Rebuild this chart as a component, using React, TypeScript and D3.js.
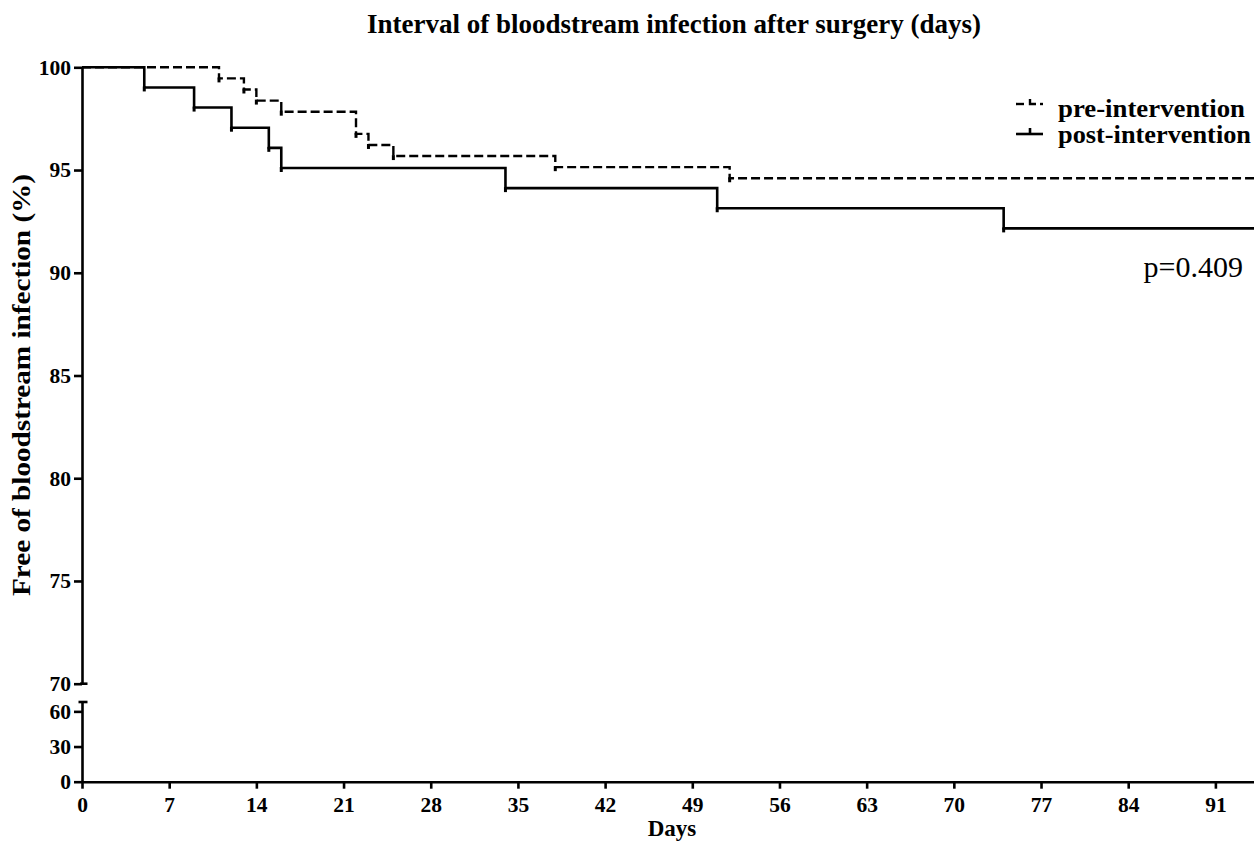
import React, { useEffect, useRef } from "react";
import * as d3 from "d3";

const titleText = "Interval of bloodstream infection after surgery (days)";
const xLabel = "Days";
const yLabel = "Free of bloodstream infection (%)";
const pValueText = "p=0.409";

const seriesNames = ["pre-intervention", "post-intervention"];

// Kaplan-Meier step data (day of event, survival % after event)
const preDays = [11, 13, 14, 16, 22, 23, 25, 38, 52];
const preSurvival = [99.46, 98.92, 98.38, 97.84, 96.76, 96.22, 95.68, 95.14, 94.6];
const postDays = [5, 9, 12, 15, 16, 34, 51, 74];
const postSurvival = [99.02, 98.04, 97.06, 96.08, 95.1, 94.12, 93.14, 92.16];

const xTicks = [0, 7, 14, 21, 28, 35, 42, 49, 56, 63, 70, 77, 84, 91];
const yTicksUpper = [70, 75, 80, 85, 90, 95, 100];
const yTicksLower = [0, 30, 60];

const FONT = "'Liberation Serif', 'Times New Roman', serif";

export default function App() {
  const ref = useRef<SVGSVGElement | null>(null);

  useEffect(() => {
    const svg = d3.select(ref.current);
    svg.selectAll("*").remove();

    const x = d3.scaleLinear().domain([0, 94.1]).range([82, 1254]);
    const yU = d3.scaleLinear().domain([70, 100]).range([683.7, 67.3]);
    const yL = d3.scaleLinear().domain([0, 68]).range([781.7, 702]);

    const axisStyle = (g: any) => {
      g.selectAll("path.domain").attr("stroke", "#000").attr("stroke-width", 2.6);
      g.selectAll(".tick line").attr("stroke", "#000").attr("stroke-width", 2.6);
      g.selectAll(".tick text")
        .attr("fill", "#000")
        .style("font-family", FONT)
        .style("font-weight", "bold")
        .style("font-size", "21.5px");
    };

    // Upper y axis
    const gU = svg.append("g").attr("transform", "translate(82,0)");
    gU.call(
      d3.axisLeft(yU).tickValues(yTicksUpper).tickSize(8).tickSizeOuter(0).tickPadding(3).tickFormat(d3.format("d"))
    );
    axisStyle(gU);
    // extend 70 tick to the right (break)
    svg.append("line")
      .attr("x1", 80).attr("x2", 87.5)
      .attr("y1", yU(70)).attr("y2", yU(70))
      .attr("stroke", "#000").attr("stroke-width", 2.6);

    // Lower y axis
    const gL = svg.append("g").attr("transform", "translate(82,0)");
    gL.call(
      d3.axisLeft(yL).tickValues(yTicksLower).tickSize(8).tickSizeOuter(0).tickPadding(3).tickFormat(d3.format("d"))
    );
    axisStyle(gL);
    svg.append("line")
      .attr("x1", 78.5).attr("x2", 87.5)
      .attr("y1", yL(68)).attr("y2", yL(68))
      .attr("stroke", "#000").attr("stroke-width", 2.6);

    // X axis
    const gX = svg.append("g").attr("transform", `translate(0,${yL(0)})`);
    gX.call(d3.axisBottom(x).tickValues(xTicks).tickSize(7).tickSizeOuter(0).tickPadding(8));
    axisStyle(gX);

    // Step curves
    const buildPts = (days: number[], surv: number[], end: number) => {
      const pts: [number, number][] = [[0, 100]];
      days.forEach((d, i) => pts.push([d, surv[i]]));
      pts.push([end, surv[surv.length - 1]]);
      return pts;
    };
    const line = d3
      .line<[number, number]>()
      .x((d) => x(d[0]))
      .y((d) => yU(d[1]))
      .curve(d3.curveStepAfter);

    const prePts = buildPts(preDays, preSurvival, 94.1);
    const postPts = buildPts(postDays, postSurvival, 94.1);

    svg.append("path")
      .attr("d", line(prePts) as string)
      .attr("fill", "none")
      .attr("stroke", "#000")
      .attr("stroke-width", 2.4)
      .attr("stroke-dasharray", "9,4");

    svg.append("path")
      .attr("d", line(postPts) as string)
      .attr("fill", "none")
      .attr("stroke", "#000")
      .attr("stroke-width", 2.6);

    // censor-like ticks at drops
    const addTicks = (days: number[], surv: number[]) => {
      svg.append("g")
        .selectAll("line")
        .data(days.map((d, i) => [d, surv[i]] as [number, number]))
        .join("line")
        .attr("x1", (d) => x(d[0]))
        .attr("x2", (d) => x(d[0]))
        .attr("y1", (d) => yU(d[1]) - 1)
        .attr("y2", (d) => yU(d[1]) + 4)
        .attr("stroke", "#000")
        .attr("stroke-width", 3);
    };
    addTicks(preDays, preSurvival);
    addTicks(postDays, postSurvival);

    // Title
    svg.append("text")
      .attr("x", 674).attr("y", 33)
      .attr("text-anchor", "middle")
      .style("font-family", FONT).style("font-weight", "bold").style("font-size", "27px")
      .text(titleText);

    // Axis labels
    svg.append("text")
      .attr("x", 672).attr("y", 836)
      .attr("text-anchor", "middle")
      .style("font-family", FONT).style("font-weight", "bold").style("font-size", "23px")
      .text(xLabel);

    svg.append("text")
      .attr("transform", "translate(30,385) rotate(-90)")
      .attr("text-anchor", "middle")
      .attr("textLength", 422)
      .attr("lengthAdjust", "spacingAndGlyphs")
      .style("font-family", FONT).style("font-weight", "bold").style("font-size", "26px")
      .text(yLabel);

    // Legend
    const lg = svg.append("g");
    // pre symbol: dash, L-shaped tick, dot
    lg.append("line").attr("x1", 1016).attr("x2", 1024).attr("y1", 104).attr("y2", 104)
      .attr("stroke", "#000").attr("stroke-width", 2.4);
    lg.append("path").attr("d", "M1030,99 L1030,104 L1036,104")
      .attr("fill", "none").attr("stroke", "#000").attr("stroke-width", 2.4);
    lg.append("line").attr("x1", 1040).attr("x2", 1043).attr("y1", 104).attr("y2", 104)
      .attr("stroke", "#000").attr("stroke-width", 2.4);
    // post symbol
    lg.append("line").attr("x1", 1016).attr("x2", 1043).attr("y1", 134).attr("y2", 134)
      .attr("stroke", "#000").attr("stroke-width", 2.6);
    lg.append("line").attr("x1", 1030).attr("x2", 1030).attr("y1", 128).attr("y2", 134)
      .attr("stroke", "#000").attr("stroke-width", 2.6);
    const legendLens = [187, 193];
    lg.selectAll("text.lbl")
      .data(seriesNames)
      .join("text")
      .attr("class", "lbl")
      .attr("x", 1058)
      .attr("y", (_d, i) => 116.5 + i * 26.8)
      .attr("textLength", (_d, i) => legendLens[i])
      .attr("lengthAdjust", "spacingAndGlyphs")
      .style("font-family", FONT).style("font-weight", "bold").style("font-size", "24.5px")
      .text((d) => d);

    // p-value
    svg.append("text")
      .attr("x", 1243).attr("y", 277)
      .attr("text-anchor", "end")
      .style("font-family", FONT).style("font-size", "30px")
      .text(pValueText);
  }, []);

  return (
    <svg
      ref={ref}
      width={1254}
      height={842}
      style={{ position: "absolute", left: 0, top: 0, background: "#fff", display: "block" }}
    />
  );
}
